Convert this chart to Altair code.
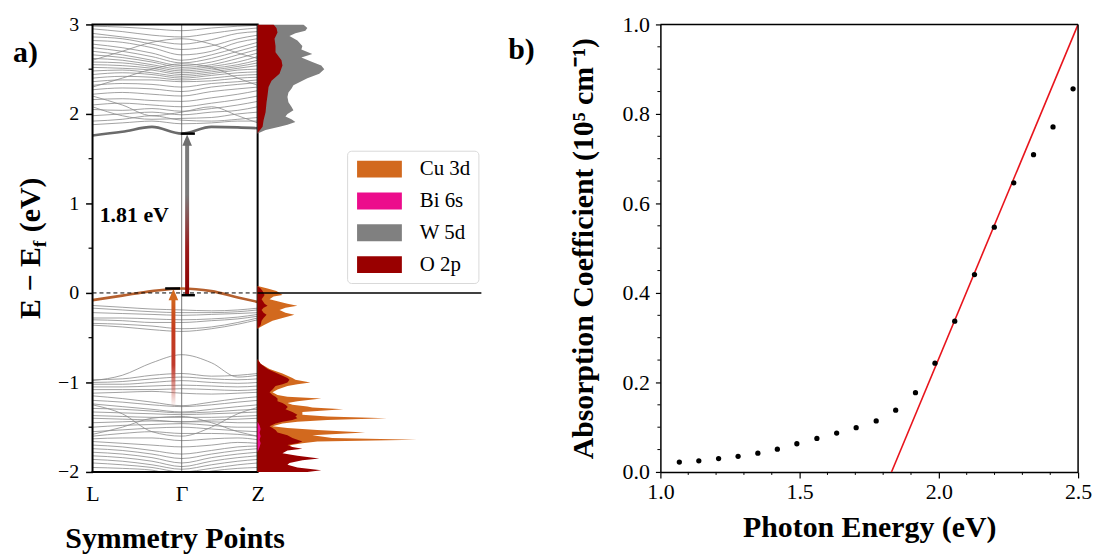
import altair as alt
import pandas as pd

FONT = "Liberation Serif"

# ---------------- Panel a: band structure ----------------
K_POINTS = [0.0, 0.18, 0.36, 0.54, 0.72, 0.88, 1.0]
K_TICKS = [0.0, 0.54, 1.0]
K_NAMES = ["L", "Γ", "Z"]
GAMMA_K = 0.54
E_TICKS = [-2, -1, 0, 1, 2, 3]
E_MINOR = [-1.5, -0.5, 0.5, 1.5, 2.5]

CB_BANDS = [
    [2.98, 2.97, 2.95, 2.93, 2.96, 2.98, 2.99],
    [2.95, 2.92, 2.88, 2.86, 2.90, 2.94, 2.96],
    [2.90, 2.86, 2.82, 2.78, 2.83, 2.90, 2.92],
    [2.86, 2.84, 2.78, 2.72, 2.76, 2.84, 2.88],
    [2.82, 2.80, 2.74, 2.66, 2.70, 2.80, 2.84],
    [2.78, 2.74, 2.68, 2.60, 2.66, 2.74, 2.80],
    [2.74, 2.70, 2.64, 2.57, 2.62, 2.70, 2.76],
    [2.70, 2.66, 2.60, 2.54, 2.58, 2.66, 2.72],
    [2.66, 2.63, 2.58, 2.52, 2.55, 2.62, 2.68],
    [2.62, 2.60, 2.55, 2.50, 2.53, 2.58, 2.64],
    [2.58, 2.57, 2.53, 2.48, 2.51, 2.55, 2.60],
    [2.55, 2.54, 2.51, 2.46, 2.49, 2.53, 2.57],
    [2.52, 2.51, 2.49, 2.44, 2.47, 2.51, 2.54],
    [2.48, 2.49, 2.46, 2.42, 2.45, 2.49, 2.50],
    [2.44, 2.46, 2.44, 2.40, 2.43, 2.46, 2.47],
    [2.40, 2.42, 2.41, 2.38, 2.40, 2.43, 2.44],
    [2.36, 2.38, 2.38, 2.36, 2.37, 2.40, 2.41],
    [2.32, 2.34, 2.33, 2.30, 2.34, 2.36, 2.38],
    [2.27, 2.29, 2.28, 2.25, 2.30, 2.33, 2.35],
    [2.22, 2.24, 2.22, 2.20, 2.25, 2.28, 2.30],
    [2.16, 2.17, 2.15, 2.14, 2.18, 2.22, 2.26],
    [2.10, 2.12, 2.10, 2.08, 2.12, 2.16, 2.20],
    [2.05, 2.04, 2.06, 2.03, 2.06, 2.10, 2.14],
    [1.98, 2.00, 2.02, 1.99, 2.02, 2.04, 2.08],
    [2.08, 1.98, 1.94, 1.95, 1.96, 2.00, 2.02],
    [1.92, 1.94, 1.98, 1.93, 1.92, 1.94, 1.96],
    [1.88, 1.90, 1.92, 1.89, 1.90, 1.92, 1.92],
    [2.20, 2.10, 1.98, 2.02, 2.08, 1.98, 1.90],
    [2.60, 2.70, 2.80, 2.84, 2.78, 2.68, 2.62],
    [2.30, 2.40, 2.50, 2.56, 2.52, 2.40, 2.32],
]
VB_BANDS = [
    [-0.14, -0.16, -0.18, -0.19, -0.20, -0.19, -0.17],
    [-0.17, -0.19, -0.21, -0.22, -0.22, -0.21, -0.19],
    [-0.22, -0.23, -0.24, -0.25, -0.24, -0.23, -0.22],
    [-0.28, -0.28, -0.29, -0.30, -0.29, -0.27, -0.24],
    [-0.30, -0.31, -0.33, -0.33, -0.31, -0.29, -0.26],
    [-0.34, -0.35, -0.37, -0.40, -0.38, -0.33, -0.28],
    [-0.36, -0.38, -0.41, -0.43, -0.40, -0.35, -0.30],
    [-0.98, -0.92, -0.78, -0.69, -0.78, -0.94, -0.92],
    [-0.97, -0.96, -0.92, -0.90, -0.93, -0.92, -0.90],
    [-1.00, -0.99, -0.96, -0.94, -0.96, -0.97, -0.96],
    [-1.02, -1.02, -1.00, -0.98, -1.00, -1.01, -1.00],
    [-1.05, -1.05, -1.04, -1.03, -1.04, -1.05, -1.04],
    [-1.08, -1.08, -1.08, -1.07, -1.08, -1.09, -1.08],
    [-1.12, -1.11, -1.10, -1.12, -1.13, -1.12, -1.11],
    [-1.15, -1.18, -1.22, -1.26, -1.22, -1.18, -1.16],
    [-1.20, -1.22, -1.25, -1.27, -1.25, -1.22, -1.20],
    [-1.24, -1.27, -1.30, -1.33, -1.30, -1.27, -1.25],
    [-1.29, -1.30, -1.32, -1.34, -1.33, -1.31, -1.30],
    [-1.33, -1.34, -1.35, -1.36, -1.35, -1.34, -1.33],
    [-1.37, -1.38, -1.39, -1.39, -1.39, -1.38, -1.37],
    [-1.40, -1.41, -1.42, -1.44, -1.42, -1.41, -1.40],
    [-1.45, -1.44, -1.43, -1.44, -1.44, -1.45, -1.45],
    [-1.50, -1.48, -1.47, -1.46, -1.48, -1.50, -1.50],
    [-1.55, -1.53, -1.51, -1.50, -1.52, -1.54, -1.55],
    [-1.60, -1.57, -1.55, -1.57, -1.57, -1.58, -1.60],
    [-1.63, -1.62, -1.62, -1.65, -1.63, -1.62, -1.64],
    [-1.66, -1.68, -1.70, -1.72, -1.70, -1.67, -1.68],
    [-1.70, -1.72, -1.76, -1.80, -1.76, -1.72, -1.71],
    [-1.74, -1.76, -1.80, -1.85, -1.80, -1.76, -1.74],
    [-1.78, -1.80, -1.84, -1.90, -1.84, -1.80, -1.78],
    [-1.82, -1.84, -1.88, -1.94, -1.88, -1.84, -1.82],
    [-1.86, -1.88, -1.92, -1.97, -1.92, -1.88, -1.86],
    [-1.90, -1.92, -1.95, -2.00, -1.96, -1.92, -1.90],
    [-1.95, -1.96, -1.98, -2.05, -1.99, -1.96, -1.95],
    [-1.25, -1.35, -1.55, -1.60, -1.50, -1.35, -1.28],
    [-1.58, -1.50, -1.40, -1.38, -1.45, -1.55, -1.60],
]
CBM_BAND = [1.76, 1.80, 1.855, 1.78, 1.855, 1.85, 1.84]
VBM_BAND = [-0.08, -0.03, 0.02, 0.05, 0.02, -0.05, -0.10]

# gap arrows / markers (data coordinates: k, energy)
GAP_ARROW = {"k": [0.573], "e0": [-0.02], "e1": [1.70], "head": [1.707]}
VB_ARROW = {"k": [0.49], "e0": [-1.28], "e1": [-0.03], "head": [-0.018]}
CAPS = {"k0": [0.44, 0.54, 0.535], "k1": [0.53, 0.62, 0.62], "e": [0.05, -0.025, 1.78]}
GAP_TEXT = {"t": ["1.81 eV"], "k": [0.253], "e": [0.87]}

# ---------------- Panel a: projected DOS ----------------
ORB_NAMES = ["Cu 3d", "Bi 6s", "W 5d", "O 2p"]
ORB_COLORS = ["#d2691e", "#ec0c8c", "#808080", "#990000"]

W_E = [1.78, 1.82, 1.856, 1.88, 1.91, 1.94, 1.97, 2.00, 2.04, 2.08, 2.13, 2.19, 2.24, 2.28, 2.32, 2.36,
       2.40, 2.45, 2.50, 2.54, 2.58, 2.63, 2.67, 2.72, 2.76, 2.82, 2.87, 2.90, 2.93, 2.96, 3.00]
W_V = [0, 8, 22, 30, 38, 34, 28, 30, 36, 34, 31, 30, 31, 34, 36, 43,
       50, 62, 67, 64, 55, 44, 55, 44, 45, 40, 32, 38, 48, 50, 46]

O_E = [-2.00, -1.98, -1.95, -1.92, -1.90, -1.87, -1.85, -1.82, -1.79, -1.76, -1.74, -1.72, -1.70, -1.68,
       -1.66, -1.64, -1.62, -1.59, -1.56, -1.53, -1.51, -1.49, -1.46, -1.44, -1.42, -1.40, -1.38, -1.36,
       -1.33, -1.30, -1.28, -1.27, -1.25, -1.23, -1.21, -1.18, -1.16, -1.14, -1.11, -1.08, -1.04, -1.02,
       -1.00, -0.97, -0.95, -0.90, -0.85, -0.79, -0.74,
       -0.40, -0.385, -0.36, -0.31, -0.28, -0.245, -0.22, -0.19, -0.165, -0.144, -0.12, -0.07, -0.04,
       -0.022, 0.0, 0.022, 0.05, 0.078,
       1.78, 1.80, 1.856, 1.93, 2.02, 2.13, 2.21, 2.30, 2.37, 2.45, 2.54, 2.60, 2.69, 2.76, 2.84, 2.91,
       2.96, 3.00]
O_V = [50, 64, 40, 30, 32, 45, 62, 40, 25, 30, 45, 35, 30, 40,
       45, 40, 35, 30, 20, 18, 15, 12, 18, 25, 35, 40, 38, 40,
       35, 28, 30, 30, 28, 25, 20, 20, 18, 15, 12, 15, 18, 25,
       30, 32, 30, 20, 10, 3, 0,
       0, 1, 3, 4, 6, 9, 6, 4, 6, 10, 7, 4, 6,
       7, 6, 5, 3, 0,
       0, 1, 5, 6, 8, 9, 10, 11, 14, 22, 25, 24, 18, 18, 17, 20,
       19, 16]

CU_E = [-2.00, -1.98, -1.95, -1.92, -1.90, -1.87, -1.85, -1.82, -1.79, -1.76, -1.74, -1.72, -1.70, -1.68,
        -1.66, -1.64, -1.62, -1.59, -1.56, -1.53, -1.51, -1.49, -1.46, -1.44, -1.42, -1.40, -1.38, -1.36,
        -1.33, -1.30, -1.28, -1.27, -1.25, -1.23, -1.21, -1.18, -1.16, -1.14, -1.11, -1.08, -1.04, -1.02,
        -1.00, -0.97, -0.95, -0.90, -0.85, -0.79, -0.74,
        -0.40, -0.385, -0.36, -0.31, -0.28, -0.245, -0.22, -0.19, -0.165, -0.144, -0.12, -0.07, -0.04,
        -0.022, 0.0, 0.022, 0.05, 0.078]
CU_V = [40, 50, 30, 22, 24, 35, 50, 30, 20, 24, 38, 30, 34, 45,
        60, 160, 75, 55, 108, 60, 30, 15, 25, 40, 70, 130, 70, 45,
        45, 86, 55, 50, 35, 30, 40, 64, 30, 20, 15, 20, 30, 40,
        53, 38, 35, 25, 12, 3, 0,
        0, 2, 6, 15, 25, 37, 28, 22, 28, 40, 30, 12, 16,
        25, 22, 19, 10, 0]

BI_E = [-1.78, -1.72, -1.68, -1.64, -1.60, -1.56, -1.52, -1.48, -1.44]
BI_V = [0, 2, 3, 2, 3, 2, 3, 2, 0]

# ---------------- Panel b: absorption ----------------
PE = [1.068, 1.138, 1.209, 1.279, 1.350, 1.420, 1.490, 1.562, 1.633, 1.703, 1.775,
      1.845, 1.916, 1.986, 2.057, 2.128, 2.199, 2.269, 2.340, 2.410, 2.482]
ABS = [0.022, 0.025, 0.030, 0.035, 0.042, 0.051, 0.063, 0.075, 0.087, 0.099, 0.114,
       0.138, 0.177, 0.243, 0.337, 0.441, 0.547, 0.646, 0.709, 0.771, 0.856]
FIT_E = [1.83, 2.5]
FIT_A = [0.0, 1.0]
PB_XTICKS = [1.0, 1.5, 2.0, 2.5]
PB_XMINOR = [1.1, 1.2, 1.3, 1.4, 1.6, 1.7, 1.8, 1.9, 2.1, 2.2, 2.3, 2.4]
PB_YTICKS = [0.0, 0.2, 0.4, 0.6, 0.8, 1.0]
PB_YMINOR = [0.05, 0.1, 0.15, 0.25, 0.3, 0.35, 0.45, 0.5, 0.55, 0.65, 0.7, 0.75, 0.85, 0.9, 0.95]

# ================= build =================
BAND_W = 166
DOS_W = 225
H = 450

KX = alt.Scale(domain=[0, 1], range=[0, BAND_W], nice=False, zero=False, padding=0)
EY = alt.Scale(domain=[-2, 3], nice=False, zero=False, padding=0)
DX = alt.Scale(domain=[0, 225], range=[BAND_W, BAND_W + DOS_W], nice=False, padding=0)

rows = []
for i, b in enumerate(CB_BANDS + VB_BANDS):
    for k, e in zip(K_POINTS, b):
        rows.append({"band": i, "k": k, "E": e})
band_df = pd.DataFrame(rows)

label_expr = "[" + ",".join(f"'{n}'" for n in K_NAMES) + "][indexof([" + ",".join(str(v) for v in K_TICKS) + "], datum.value)]"

lines = alt.Chart(band_df).mark_line(
    color="#8a8a8a", strokeWidth=1, opacity=0.8, interpolate="monotone", clip=True
).encode(
    x=alt.X("k:Q", scale=KX, axis=alt.Axis(values=K_TICKS, labelExpr=label_expr, ticks=False, domain=False,
                                          labelFont=FONT, labelFontSize=22, labelPadding=12, labelFlush=False,
                                          labelOverlap=False, title=None, grid=False)),
    y=alt.Y("E:Q", scale=EY, axis=alt.Axis(values=E_TICKS, format="d", tickSize=7, tickWidth=1.5,
                                          labelFont=FONT, labelFontSize=20,
                                          labelPadding=7, domain=False, title=None, grid=False)),
    detail="band:N",
)

gamma = alt.Chart(pd.DataFrame({"k": [GAMMA_K]})).mark_rule(color="#555555", strokeWidth=0.8).encode(
    x=alt.X("k:Q", scale=KX))

edge_df = pd.DataFrame({"band": ["CBM"] * len(K_POINTS) + ["VBM"] * len(K_POINTS),
                        "k": K_POINTS + K_POINTS, "E": CBM_BAND + VBM_BAND})
cbm = alt.Chart(edge_df[edge_df.band == "CBM"]).mark_line(
    color="#6b6b6b", strokeWidth=2.6, interpolate="monotone").encode(
    x=alt.X("k:Q", scale=KX), y=alt.Y("E:Q", scale=EY))
vbm = alt.Chart(edge_df[edge_df.band == "VBM"]).mark_line(
    color="#b5602e", strokeWidth=2.6, interpolate="monotone").encode(
    x=alt.X("k:Q", scale=KX), y=alt.Y("E:Q", scale=EY))

zero_dash = alt.Chart(pd.DataFrame({"k0": [0], "k1": [1], "E": [0]})).mark_rule(
    color="black", strokeWidth=1, strokeDash=[4, 3]).encode(
    x=alt.X("k0:Q", scale=KX), x2="k1:Q", y=alt.Y("E:Q", scale=EY))

grey_grad = alt.Gradient(gradient="linear", x1=0, x2=0, y1=0, y2=1, stops=[
    alt.GradientStop(offset=0, color="#7a7a7a"), alt.GradientStop(offset=0.35, color="#7a7a7a"),
    alt.GradientStop(offset=0.7, color="#9a1a1a"), alt.GradientStop(offset=1, color="#8b0000")])
org_grad = alt.Gradient(gradient="linear", x1=0, x2=0, y1=0, y2=1, stops=[
    alt.GradientStop(offset=0, color="#d2691e"), alt.GradientStop(offset=0.3, color="#c43c1e"),
    alt.GradientStop(offset=0.62, color="#c0392b"), alt.GradientStop(offset=1, color="rgba(192,57,43,0)")])

gap_df = pd.DataFrame(GAP_ARROW)
vb_df = pd.DataFrame(VB_ARROW)
gap_shaft = alt.Chart(gap_df).mark_bar(size=4, color=grey_grad).encode(
    x=alt.X("k:Q", scale=KX), y=alt.Y("e0:Q", scale=EY), y2="e1:Q")
vb_shaft = alt.Chart(vb_df).mark_bar(size=4, color=org_grad).encode(
    x=alt.X("k:Q", scale=KX), y=alt.Y("e0:Q", scale=EY), y2="e1:Q")
HEAD = "M0,-1L0.85,1L-0.85,1Z"
gap_head = alt.Chart(gap_df).mark_point(shape=HEAD, filled=True, size=130, opacity=1, color="#6e6e6e").encode(
    x=alt.X("k:Q", scale=KX), y=alt.Y("head:Q", scale=EY))
vb_head = alt.Chart(vb_df).mark_point(shape=HEAD, filled=True, size=130, opacity=1, color="#d2691e").encode(
    x=alt.X("k:Q", scale=KX), y=alt.Y("head:Q", scale=EY))
caps = alt.Chart(pd.DataFrame(CAPS)).mark_rule(color="black", strokeWidth=2.5).encode(
    x=alt.X("k0:Q", scale=KX), x2="k1:Q", y=alt.Y("e:Q", scale=EY))
gap_txt = alt.Chart(pd.DataFrame(GAP_TEXT)).mark_text(
    font=FONT, fontSize=22, fontWeight="bold", color="black", baseline="middle").encode(
    x=alt.X("k:Q", scale=KX), y=alt.Y("e:Q", scale=EY), text="t:N")

frame_h = alt.Chart(pd.DataFrame({"k0": [0, 0], "k1": [1, 1], "E": [-2, 3]})).mark_rule(
    color="black", strokeWidth=2, strokeCap="square").encode(
    x=alt.X("k0:Q", scale=KX), x2="k1:Q", y=alt.Y("E:Q", scale=EY))
frame_v = alt.Chart(pd.DataFrame({"k": [0, 1]})).mark_rule(
    color="black", strokeWidth=2).encode(x=alt.X("k:Q", scale=KX))
minor_a = alt.Chart(pd.DataFrame({"E": E_MINOR})).mark_rule(color="black", strokeWidth=1.2).encode(
    y=alt.Y("E:Q", scale=EY), x=alt.value(-4), x2=alt.value(0))


def label(txt, x, y, size, align="left", angle=0, baseline="middle"):
    return alt.Chart(pd.DataFrame({"t": [txt]})).mark_text(
        font=FONT, fontSize=size, fontWeight="bold", color="black", align=align, angle=angle,
        baseline=baseline).encode(x=alt.value(x), y=alt.value(y), text="t:N")


a_lab = label("a)", -80, 29, 30)
yt1 = label("E − E", -53, 224, 30, align="right", angle=270, baseline="alphabetic")
yt2 = label("f", -47, 224, 20, align="left", angle=270, baseline="alphabetic")
yt3 = label("(eV)", -53, 209, 30, align="left", angle=270, baseline="alphabetic")
sym = label("Symmetry Points", BAND_W / 2, 526, 30, align="center", baseline="alphabetic")

band_layer = alt.layer(lines, gamma, cbm, vbm, zero_dash, gap_shaft, vb_shaft, gap_head, vb_head,
                       caps, gap_txt, frame_h, frame_v, minor_a, a_lab, yt1, yt2, yt3, sym)

# legend swatch: 45x17 px drawn from a 17px layout symbol
LEG = alt.Legend(orient="none", legendX=256, legendY=127, title=None,
                 symbolType="M-1,-1H4.3V1H-1Z", symbolSize=289, symbolStrokeWidth=0,
                 symbolOpacity=1, labelFont=FONT, labelFontSize=21, labelOffset=44, rowPadding=10,
                 padding=8, strokeColor="#d9d9d9", cornerRadius=4, fillColor="white", labelColor="black")
CSCALE = alt.Scale(domain=ORB_NAMES, range=ORB_COLORS)


def dos_area(name, es, vs):
    df = pd.DataFrame({"E": es, "v": vs, "orb": [name] * len(es)})
    return alt.Chart(df).mark_area(orient="horizontal", opacity=1, clip=True).encode(
        y=alt.Y("E:Q", scale=EY),
        x=alt.X("v:Q", scale=DX, axis=None, stack=None),
        color=alt.Color("orb:N", scale=CSCALE, legend=LEG),
    )


dos_zero = alt.Chart(pd.DataFrame({"v0": [0], "v1": [225], "E": [0]})).mark_rule(
    color="black", strokeWidth=1.5).encode(
    x=alt.X("v0:Q", scale=DX, axis=None), x2="v1:Q", y=alt.Y("E:Q", scale=EY))

dos_layer = alt.layer(dos_area("W 5d", W_E, W_V), dos_area("Cu 3d", CU_E, CU_V),
                      dos_area("O 2p", O_E, O_V), dos_area("Bi 6s", BI_E, BI_V), dos_zero)

panel_a = alt.layer(band_layer, dos_layer).resolve_scale(x="independent").properties(
    width=BAND_W + DOS_W, height=H)

# ---------------- panel b ----------------
PBX = alt.Scale(domain=[1.0, 2.5], nice=False, zero=False, padding=0)
PBY = alt.Scale(domain=[0, 1], nice=False, zero=False, padding=0)

pts = alt.Chart(pd.DataFrame({"pe": PE, "a": ABS})).mark_circle(size=28, color="black", opacity=1).encode(
    x=alt.X("pe:Q", scale=PBX, axis=alt.Axis(values=PB_XTICKS, format=".1f", labelFont=FONT, labelFontSize=22,
                                            tickSize=6, tickWidth=1.2, labelPadding=4, labelFlush=False,
                                            domainWidth=1.5, title="Photon Energy (eV)", titleFont=FONT,
                                            titleFontSize=30, titleFontWeight="bold", titlePadding=10,
                                            grid=False)),
    y=alt.Y("a:Q", scale=PBY, axis=alt.Axis(values=PB_YTICKS, format=".1f", labelFont=FONT, labelFontSize=22,
                                           tickSize=5, tickWidth=1.2, labelPadding=6, labelFlush=False,
                                           domainWidth=1.5, title="Absorption Coefficient (10⁵ cm⁻¹)",
                                           titleFont=FONT, titleFontSize=30, titleFontWeight="bold",
                                           titlePadding=24, grid=False)),
)
fit = alt.Chart(pd.DataFrame({"pe": FIT_E, "a": FIT_A})).mark_line(
    color="#e8141c", strokeWidth=1.6, clip=True).encode(
    x=alt.X("pe:Q", scale=PBX), y=alt.Y("a:Q", scale=PBY))
minor_bx = alt.Chart(pd.DataFrame({"pe": PB_XMINOR})).mark_rule(color="black", strokeWidth=1).encode(
    x=alt.X("pe:Q", scale=PBX), y=alt.value(H), y2=alt.value(H + 3))
minor_by = alt.Chart(pd.DataFrame({"a": PB_YMINOR})).mark_rule(color="black", strokeWidth=1).encode(
    y=alt.Y("a:Q", scale=PBY), x=alt.value(-3), x2=alt.value(0))
top_b = alt.Chart(pd.DataFrame({"a": [1.0]})).mark_rule(color="black", strokeWidth=1.5).encode(
    y=alt.Y("a:Q", scale=PBY))
right_b = alt.Chart(pd.DataFrame({"pe": [2.5]})).mark_rule(color="black", strokeWidth=1.5).encode(
    x=alt.X("pe:Q", scale=PBX))
b_lab = label("b)", -153, 26, 30)

panel_b = alt.layer(fit, pts, minor_bx, minor_by, top_b, right_b, b_lab).properties(width=420, height=H)

chart = alt.hconcat(panel_a, panel_b, spacing=180, bounds="flush").properties(
    padding={"left": 4, "top": 3, "right": 0, "bottom": 0}, background="white"
).configure_view(stroke="transparent").configure_axis(
    labelFont=FONT, titleFont=FONT, labelColor="black", titleColor="black", tickColor="black",
    domainColor="black", grid=False)

chart.save("out.html", embed_options={"renderer": "svg", "actions": False})
